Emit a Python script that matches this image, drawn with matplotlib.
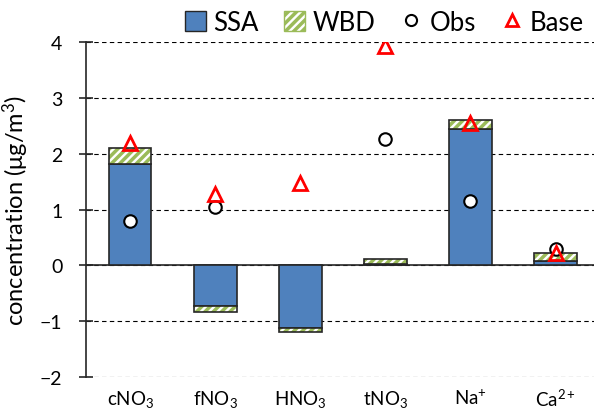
import matplotlib
matplotlib.use("Agg")
import matplotlib.pyplot as plt
import numpy as np
from matplotlib.patches import Patch
from matplotlib.lines import Line2D

labels = ["cNO$_3$", "fNO$_3$", "HNO$_3$", "tNO$_3$", "Na$^{+}$", "Ca$^{2+}$"]
ssa = [1.81, -0.73, -1.12, 0.02, 2.44, 0.07]
wbd = [0.29, -0.10, -0.07, 0.10, 0.16, 0.16]
obs = [0.80, 1.04, None, 2.27, 1.16, 0.29]
base = [2.20, 1.27, 1.47, 3.93, 2.55, 0.22]

plt.rcParams['font.family'] = ['Lato', 'DejaVu Sans']
plt.rcParams['mathtext.fontset'] = 'custom'
plt.rcParams['mathtext.rm'] = 'Lato'
plt.rcParams['mathtext.it'] = 'Lato:italic'
plt.rcParams['hatch.linewidth'] = 2.5

blue = '#4f81bd'
green = '#9bbb59'
edge = '#262626'

fig = plt.figure(figsize=(6.01, 4.14), dpi=100)
ax = fig.add_axes([0.143, 0.087, 0.845, 0.809])

x = np.arange(len(labels))
w = 0.5
ax.bar(x, ssa, w, color=blue, edgecolor=edge, linewidth=1.2, zorder=3)
ax.bar(x, wbd, w, bottom=ssa, color='white', edgecolor=green, hatch='////', linewidth=0, zorder=3)
ax.bar(x, wbd, w, bottom=ssa, fill=False, edgecolor=edge, linewidth=1.2, zorder=4)

ox = [i for i, v in enumerate(obs) if v is not None]
oy = [v for v in obs if v is not None]
ax.plot(ox, oy, 'o', ms=9, mfc='white', mec='black', mew=1.5, ls='none', zorder=5)
ax.plot(x, base, '^', ms=10, mfc='none', mec='red', mew=2, ls='none', zorder=6)

ax.axhline(0, color=edge, lw=1.2, zorder=2)
ax.set_ylim(-2, 4)
ax.set_xlim(-0.52, 5.45)
ax.set_yticks(range(-2, 5))
ax.yaxis.grid(True, linestyle=(0, (4, 3)), color='black', lw=0.8, zorder=0)
ax.set_axisbelow(True)
for s in ['top', 'right', 'bottom']:
    ax.spines[s].set_visible(False)
ax.spines['left'].set_linewidth(1.2)
ax.spines['left'].set_color(edge)
ax.tick_params(axis='y', direction='inout', length=10, width=1.2, color=edge, labelsize=14, pad=12)
ax.tick_params(axis='x', length=0, labelsize=13.5, pad=8)
ax.set_xticks(x)
ax.set_xticklabels(labels)
ax.set_ylabel("concentration (\u03bcg/m$^3$)", fontsize=17, labelpad=6)

handles = [
    Patch(facecolor=blue, edgecolor=edge, label='SSA'),
    Patch(facecolor='white', edgecolor=green, hatch='////', label='WBD'),
    Line2D([], [], marker='o', ls='none', ms=8, mfc='white', mec='black', mew=1.5, label='Obs'),
    Line2D([], [], marker='^', ls='none', ms=9, mfc='none', mec='red', mew=2, label='Base'),
]
fig.legend(handles=handles, loc='upper right', bbox_to_anchor=(1.01, 1.03), ncol=4, frameon=False,
           fontsize=18.5, handlelength=0.8, handleheight=0.8, handletextpad=0.3, columnspacing=1.0)

fig.savefig("out.png", dpi=100)
